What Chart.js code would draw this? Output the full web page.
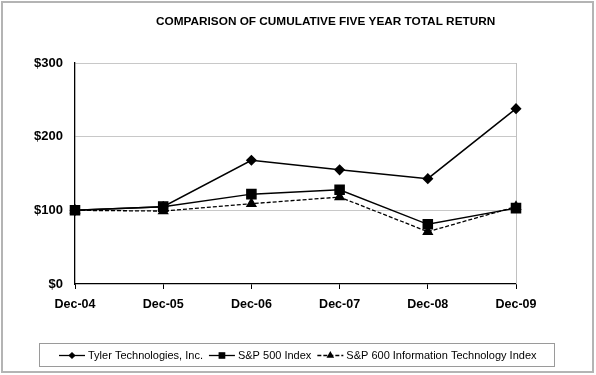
<!DOCTYPE html>
<html lang="en">
<head>
<meta charset="UTF-8">
<title>Cumulative Five Year Total Return</title>
<script src="https://cdn.jsdelivr.net/npm/chart.js"></script>
<style>
  html, body { margin: 0; padding: 0; background: #fff; }
  #wrap { position: relative; width: 596px; height: 375px; }
</style>
</head>
<body>
<div id="wrap"><canvas id="chart" width="596" height="375"></canvas></div>
<script>
const years = ['Dec-04', 'Dec-05', 'Dec-06', 'Dec-07', 'Dec-08', 'Dec-09'];
const tyler = [100, 105, 168, 155, 143, 238];
const sp500 = [100, 105, 122, 128, 81, 103];
const sp600it = [100, 99, 109, 118, 71, 105];
const yTicks = [0, 100, 200, 300];

const chartTitle = 'COMPARISON OF CUMULATIVE FIVE YEAR TOTAL RETURN';
const FONT = '"Liberation Sans", Arial, sans-serif';

// frame, title, plot border and the excel-style legend box
const decor = {
  id: 'decor',
  beforeDatasetsDraw(chart) {
    const { ctx, chartArea: a } = chart;
    ctx.save();
    ctx.strokeStyle = '#c0c0c0';
    ctx.lineWidth = 1;
    ctx.beginPath();
    ctx.moveTo(a.right + 0.5, a.top);
    ctx.lineTo(a.right + 0.5, a.bottom);
    ctx.stroke();
    ctx.restore();
  },
  afterDraw(chart) {
    const ctx = chart.ctx;
    ctx.save();
    // outer frame
    ctx.strokeStyle = '#b4b4b4';
    ctx.lineWidth = 2;
    ctx.strokeRect(2, 2, 591, 370);

    // title
    ctx.fillStyle = '#000';
    ctx.font = 'bold 11.8px ' + FONT;
    ctx.textAlign = 'left';
    ctx.textBaseline = 'middle';
    ctx.fillText(chartTitle, 156, 22);

    // legend
    ctx.strokeStyle = '#9a9a9a';
    ctx.lineWidth = 1;
    ctx.strokeRect(39.5, 343.5, 515, 23);
    ctx.font = '11px ' + FONT;
    const cy = 355;
    let x = 59;
    chart.data.datasets.forEach(ds => {
      ctx.strokeStyle = ds.borderColor;
      ctx.lineWidth = 1.3;
      ctx.setLineDash(ds.borderDash || []);
      ctx.beginPath();
      ctx.moveTo(x, cy + 0.5);
      ctx.lineTo(x + 26, cy + 0.5);
      ctx.stroke();
      ctx.setLineDash([]);
      Chart.helpers.drawPoint(ctx, {
        pointStyle: ds.pointStyle,
        radius: ds.pointRadius * 0.6,
        borderWidth: 1
      }, x + 13, cy + 0.5);
      ctx.fillStyle = '#000';
      ctx.fillText(ds.label, x + 29, cy + 1);
      x += 29 + ctx.measureText(ds.label).width + 6;
    });
    ctx.restore();
  }
};

new Chart(document.getElementById('chart'), {
  type: 'line',
  data: {
    labels: years,
    datasets: [
      {
        label: 'Tyler Technologies, Inc.',
        data: tyler,
        borderColor: '#000',
        backgroundColor: '#000',
        borderWidth: 1.5,
        pointStyle: 'rectRot',
        pointRadius: 4.5,
        tension: 0
      },
      {
        label: 'S&P 500 Index',
        data: sp500,
        borderColor: '#000',
        backgroundColor: '#000',
        borderWidth: 1.5,
        pointStyle: 'rect',
        pointRadius: 6.4,
        tension: 0
      },
      {
        label: 'S&P 600 Information Technology Index',
        data: sp600it,
        borderColor: '#000',
        backgroundColor: '#000',
        borderWidth: 1.3,
        borderDash: [4, 2],
        pointStyle: 'triangle',
        pointRadius: 5.2,
        tension: 0
      }
    ]
  },
  options: {
    responsive: false,
    animation: false,
    layout: { padding: { left: 0, top: 63, right: 80, bottom: 0 } },
    plugins: {
      legend: { display: false },
      title: { display: false },
      tooltip: { enabled: false }
    },
    scales: {
      x: {
        offset: false,
        afterFit: s => { s.height = 91; },
        grid: {
          drawOnChartArea: false,
          drawTicks: true,
          tickLength: 5,
          color: '#000'
        },
        border: { color: '#000', width: 1.3 },
        ticks: {
          color: '#000',
          padding: 8,
          maxRotation: 0,
          font: { family: FONT, size: 12.5, weight: 'bold' }
        }
      },
      y: {
        min: 0,
        max: 300,
        afterFit: s => { s.width = 75; },
        afterBuildTicks: s => { s.ticks = yTicks.map(v => ({ value: v })); },
        grid: {
          drawTicks: false,
          color: c => (c.tick.value === 0 ? 'rgba(0,0,0,0)' : '#c8c8c8')
        },
        border: { color: '#000', width: 1.3 },
        ticks: {
          color: '#000',
          padding: 12,
          font: { family: FONT, size: 13, weight: 'bold' },
          callback: v => '$' + v
        }
      }
    }
  },
  plugins: [decor]
});
</script>
</body>
</html>
